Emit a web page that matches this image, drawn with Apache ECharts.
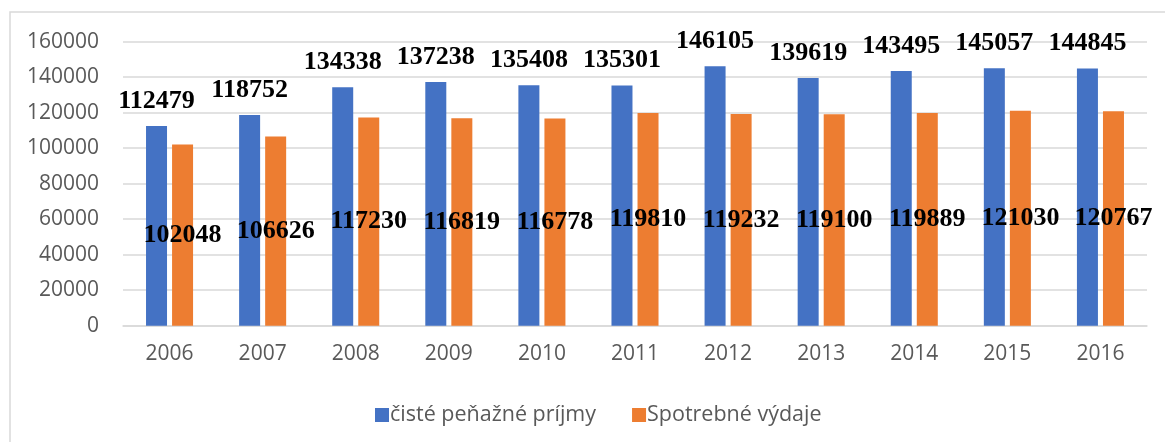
<!DOCTYPE html>
<html>
<head>
<meta charset="utf-8">
<script src="https://cdn.jsdelivr.net/npm/echarts@6/dist/echarts.min.js"></script>
<style>html,body{margin:0;padding:0;background:#fff}#c{width:1165px;height:442px}</style>
</head>
<body>
<div id="c"></div>
<script>
const years = ['2006','2007','2008','2009','2010','2011','2012','2013','2014','2015','2016'];
const prijmy = [112479,118752,134338,137238,135408,135301,146105,139619,143495,145057,144845];
const vydaje = [102048,106626,117230,116819,116778,119810,119232,119100,119889,121030,120767];
const seriesNames = ['čisté peňažné príjmy','Spotrebné výdaje'];

const chart = echarts.init(document.getElementById('c'), null, {renderer:'canvas'});
const labelFont = {fontFamily:'Liberation Serif', fontWeight:'bold', fontSize:26, color:'#000'};
chart.setOption({
  animation:false,
  backgroundColor:'#fff',
  graphic:[{type:'rect', shape:{x:10,y:12,width:1300,height:600}, style:{fill:'none', stroke:'#d9d9d9', lineWidth:1.5}, silent:true, z:-1}],
  grid:{left:123, right:18, top:41.7, bottom:116.3},
  legend:{
    data:seriesNames, top:399, left:370, itemWidth:14, itemHeight:14, itemGap:36,
    icon:'rect',
    textStyle:{fontFamily:'Open Sans', fontSize:21.5, color:'#595959', padding:[0,0,0,-4]}
  },
  xAxis:{
    type:'category', data:years,
    axisLine:{lineStyle:{color:'#d9d9d9', width:1.5}}, axisTick:{show:false},
    axisLabel:{fontFamily:'Open Sans', fontSize:21, color:'#595959', margin:18}
  },
  yAxis:{
    type:'value', min:0, max:160000, interval:20000,
    axisLine:{show:false}, axisTick:{show:false},
    splitLine:{lineStyle:{color:'#d9d9d9', width:1.5}},
    axisLabel:{fontFamily:'Open Sans', fontSize:21, color:'#595959', margin:24, formatter:function(v){return String(v);}}
  },
  series:[
    {name:seriesNames[0], type:'bar', data:prijmy, barWidth:21, barGap:'24%',
     itemStyle:{color:'#4472C4'},
     label:{show:true, position:'top', distance:12, ...labelFont}},
    {name:seriesNames[1], type:'bar', data:vydaje, barWidth:21,
     itemStyle:{color:'#ED7D31'},
     label:{show:true, position:'inside', ...labelFont}, z:3}
  ]
});
</script>
</body>
</html>
